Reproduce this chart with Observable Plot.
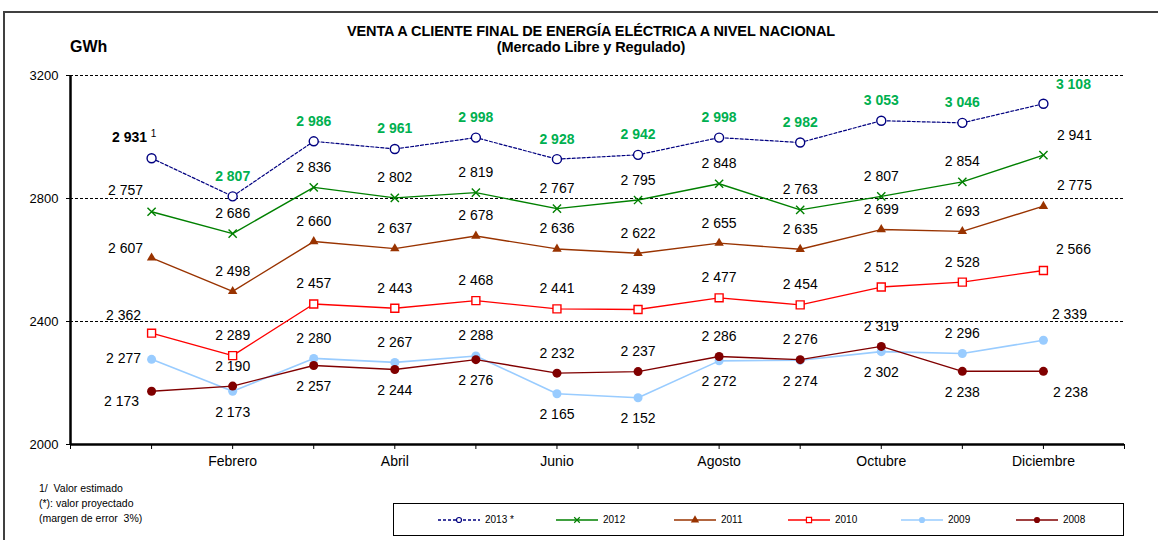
<!DOCTYPE html>
<html><head><meta charset="utf-8">
<script src="https://cdn.jsdelivr.net/npm/d3@7"></script>
<script src="https://cdn.jsdelivr.net/npm/@observablehq/plot@0.6"></script>
<style>
body{margin:0;background:#fff;font-family:"Liberation Sans",Arial,sans-serif;color:#000;}
#wrap{position:relative;width:1158px;height:540px;overflow:hidden;}
#frame{position:absolute;left:3px;top:11px;width:1200px;height:600px;border-left:2px solid #404040;border-top:2px solid #404040;}
#chart{position:absolute;left:0;top:0;}
#title{position:absolute;left:0;width:1182px;top:23px;text-align:center;font-weight:bold;font-size:14.5px;line-height:16px;letter-spacing:-0.1px;}
#unit{position:absolute;left:70px;top:38px;font-weight:bold;font-size:16px;}
#notes{position:absolute;left:39px;top:481px;font-size:10.5px;line-height:15px;}
#legend{position:absolute;left:393px;top:503px;width:729px;height:31px;border:1px solid #000;}
.li{position:absolute;top:0;height:31px;display:flex;align-items:center;font-size:10px;}
.li svg{margin-right:5px;}
</style></head><body>
<div id="wrap">
 <div id="frame"></div>
 <div id="title">VENTA A CLIENTE FINAL DE ENERGÍA ELÉCTRICA A NIVEL NACIONAL<br>(Mercado Libre y Regulado)</div>
 <div id="unit">GWh</div>
 <div id="notes">1/&nbsp; Valor estimado<br>(*): valor proyectado<br>(margen de error&nbsp; 3%)</div>
 <div id="chart"></div>
 <div id="legend"></div>
</div>
<script>
const months = ["Enero","Febrero","Marzo","Abril","Mayo","Junio","Julio","Agosto","Septiembre","Octubre","Noviembre","Diciembre"];
const seriesNames = ["2013 *","2012","2011","2010","2009","2008"];
const v2013 = [2931,2807,2986,2961,2998,2928,2942,2998,2982,3053,3046,3108];
const v2012 = [2757,2686,2836,2802,2819,2767,2795,2848,2763,2807,2854,2941];
const v2011 = [2607,2498,2660,2637,2678,2636,2622,2655,2635,2699,2693,2775];
const v2010 = [2362,2289,2457,2443,2468,2441,2439,2477,2454,2512,2528,2566];
const v2009 = [2277,2173,2280,2267,2288,2165,2152,2272,2274,2302,2296,2339];
const v2008 = [2173,2190,2257,2244,2276,2232,2237,2286,2276,2319,2238,2238];
const yTicks = [2000,2400,2800,3200];

const values = [v2013,v2012,v2011,v2010,v2009,v2008];

// styles
const styles = [
  {color:"#000080", dash:"3,2", symbol:"circle", r:4.5, fill:"#fff", width:1.2, lsize:20},
  {color:"#008000", dash:null, symbol:"times", r:3.8, fill:"none", width:1.4, lsize:22},
  {color:"#993300", dash:null, symbol:"triangle", r:3.5, fill:"#993300", width:1.4, lsize:30},
  {color:"#FF0000", dash:null, symbol:"square", r:4.5, fill:"#fff", width:1.4, lsize:26},
  {color:"#99CCFF", dash:null, symbol:"circle", r:4.5, fill:"#99CCFF", width:1.6, lsize:30},
  {color:"#800000", dash:null, symbol:"circle", r:4.5, fill:"#800000", width:1.4, lsize:30}
];
// label placement (layout)
const janOff = [[-22,-21],[-26,-21],[-26,-9],[-28,-18],[-28,-1],[-30,10]];
const decOff = [[30,-19],[31,-20],[31,-21],[30,-21],[26,-26],[27,21]];
const belowMonths = {4:[2,6,7,8,9,10], 5:[3,4,5,11]};
function place(si, m){
  if (m === 1) return janOff[si];
  if (m === 12) return decOff[si];
  if (belowMonths[si] && belowMonths[si].includes(m)) return [0, 21];
  return [0, -20];
}
const fmt = v => d3.format(",")(v).replace(/,/g, " ");

const rows = [];
values.forEach((arr, si) => arr.forEach((v, i) => {
  const m = i + 1;
  const [dx, dy] = place(si, m);
  const bold = si === 0;
  const lc = si === 0 ? (m === 1 ? "#000000" : "#00B050") : "#000000";
  rows.push({series: seriesNames[si], si, m, v, dx, dy, bold, lc});
}));

const marks = [
  Plot.ruleY([2400,2800,3200], {stroke:"#000", strokeWidth:1, strokeDasharray:"3,2"}),
  Plot.axisY({ticks: yTicks, tickSize:4, tickPadding:8, tickFormat: d => String(d), fontSize:13, label:null}),
  Plot.axisX({ticks: d3.range(0,14), tickSize:5, tickPadding:7, fontSize:14, label:null,
    tickFormat: d => (d >= 1 && d <= 12 && d % 2 === 0) ? months[d-1] : ""}),
  Plot.ruleX([0], {stroke:"#000", strokeWidth:2.5}),
  Plot.ruleY([2000], {stroke:"#000", strokeWidth:2.5})
];
styles.forEach((s, si) => {
  const d = rows.filter(r => r.si === si);
  marks.push(Plot.line(d, {x:"m", y:"v", stroke:s.color, strokeWidth:s.width, strokeDasharray:s.dash || undefined}));
  marks.push(Plot.dot(d, {x:"m", y:"v", symbol:s.symbol, r:s.r, stroke: s.symbol === "triangle" || (s.fill !== "#fff" && s.symbol === "circle") ? "none" : s.color,
    fill:s.fill, strokeWidth:1.4}));
});
d3.groups(rows, r => `${r.dx}|${r.dy}|${r.bold}`).forEach(([k, g]) => {
  marks.push(Plot.text(g, {x:"m", y:"v", text: r => fmt(r.v), dx:g[0].dx, dy:g[0].dy, fill: r => r.lc,
    fontSize:14, fontWeight: g[0].bold ? "bold" : "normal"}));
});
// footnote marker on first estimated value
marks.push(Plot.text(rows.filter(r => r.si === 0 && r.m === 1), {x:"m", y:"v", text: () => "1", dx:2, dy:-24, fontSize:10, fill:"#000"}));

const chart = Plot.plot({
  width:1158, height:540,
  marginLeft:70, marginRight:34, marginTop:75, marginBottom:96,
  x:{type:"linear", domain:[0,13]},
  y:{domain:[2000,3200]},
  color:{type:"identity"},
  style:{fontFamily:"'Liberation Sans', Arial, sans-serif", color:"#000", background:"transparent"},
  marks
});
document.getElementById("chart").appendChild(chart);

// legend
const legend = d3.select("#legend");
const legendLeft = [44,162,280,394,507,622];
styles.forEach((s, si) => {
  const item = legend.append("div").attr("class","li").style("left", legendLeft[si] + "px");
  const svg = item.append("svg").attr("width",42).attr("height",10);
  svg.append("line").attr("x1",0).attr("x2",42).attr("y1",5).attr("y2",5)
    .attr("stroke", s.color).attr("stroke-width",1.3).attr("stroke-dasharray", s.dash || null);
  const sym = {circle:d3.symbolCircle, times:d3.symbolTimes, triangle:d3.symbolTriangle, square:d3.symbolSquare}[s.symbol];
  const filled = s.symbol === "triangle" || (s.symbol === "circle" && s.fill !== "#fff");
  svg.append("path").attr("d", d3.symbol(sym, s.lsize)()).attr("transform","translate(21,5)")
    .attr("fill", s.fill).attr("stroke", filled ? "none" : s.color).attr("stroke-width",1.2);
  item.append("span").text(seriesNames[si]);
});
</script>
</body></html>
